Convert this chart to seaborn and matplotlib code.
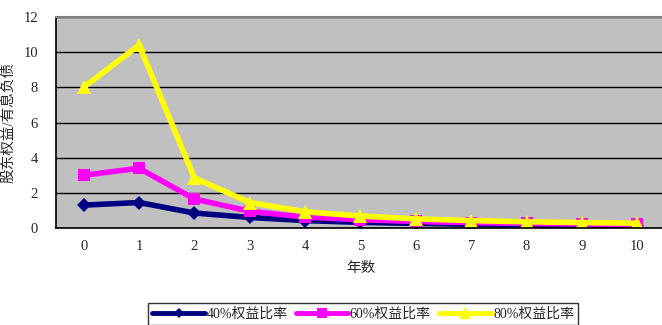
import pandas as pd
import matplotlib
matplotlib.use("Agg")
import matplotlib.pyplot as plt
import seaborn as sns

# data
years = [0, 1, 2, 3, 4, 5, 6, 7, 8, 9, 10]
ratio_40 = [1.3, 1.45, 0.85, 0.6, 0.42, 0.32, 0.26, 0.21, 0.18, 0.15, 0.13]
ratio_60 = [3.0, 3.4, 1.65, 0.95, 0.62, 0.47, 0.37, 0.31, 0.26, 0.23, 0.2]
ratio_80 = [8.0, 10.4, 2.85, 1.45, 0.92, 0.68, 0.52, 0.42, 0.35, 0.31, 0.27]
series_names = ["40%权益比率", "60%权益比率", "80%权益比率"]

df = pd.DataFrame({
    "year": years * 3,
    "value": ratio_40 + ratio_60 + ratio_80,
    "series": [series_names[0]] * 11 + [series_names[1]] * 11 + [series_names[2]] * 11,
})

sns.set_style("white")
plt.rcParams["font.family"] = ["Liberation Serif", "Noto Sans CJK SC"]

fig = plt.figure(figsize=(6.62, 3.25), dpi=100)
ax = fig.add_axes([56 / 662, 1 - 228 / 325, 609 / 662, 211 / 325])
ax.set_facecolor("#C0C0C0")

colors = {series_names[0]: "#000080", series_names[1]: "#FF00FF", series_names[2]: "#FFFF00"}
markers = {series_names[0]: "D", series_names[1]: "s", series_names[2]: "^"}
msizes = {series_names[0]: 7, series_names[1]: 9, series_names[2]: 10}
for name in series_names:
    sns.lineplot(data=df[df["series"] == name], x="year", y="value", color=colors[name],
                 marker=markers[name], markersize=msizes[name], markeredgewidth=0,
                 linewidth=4, ax=ax, legend=False)

ax.set_xlim(-0.5, 10.5)
ax.set_ylim(0, 12)
ax.set_yticks(range(0, 13, 2))
ax.set_xticks(years)
ax.set_xticks([x + 0.5 for x in range(-1, 11)], minor=True)
ax.tick_params(axis="x", which="major", length=0, pad=9, labelsize=10.5)
ax.tick_params(axis="x", which="minor", length=5, direction="out", color="black")
ax.tick_params(axis="y", length=5, direction="out", color="black", labelsize=10.5, pad=8)
ax.yaxis.grid(True, color="black", linewidth=1)
ax.set_axisbelow(True)
for s in ["left", "bottom"]:
    ax.spines[s].set_color("black")
    ax.spines[s].set_linewidth(1.2)
ax.spines["top"].set_color("#808080")
ax.spines["top"].set_linewidth(1.5)
ax.spines["right"].set_visible(False)

ax.set_xlabel("年数", fontsize=10.5, labelpad=6)
ax.set_ylabel("股东权益/有息负债", fontsize=10.5, labelpad=6)

handles = [plt.Line2D([], [], color=colors[n], marker=markers[n], linewidth=3.5,
                      markersize=msizes[n] - 2, markeredgewidth=0, label=n) for n in series_names]
leg = fig.legend(handles=handles, loc="upper left", bbox_to_anchor=(148 / 662, 1 - 303 / 325),
                 ncol=3, frameon=True, fancybox=False, fontsize=10, handlelength=3.8,
                 handletextpad=0.1, columnspacing=0.6, borderpad=0.3, borderaxespad=0)
leg.get_frame().set_edgecolor("black")
leg.get_frame().set_linewidth(1)

fig.savefig("out.png", dpi=100)
